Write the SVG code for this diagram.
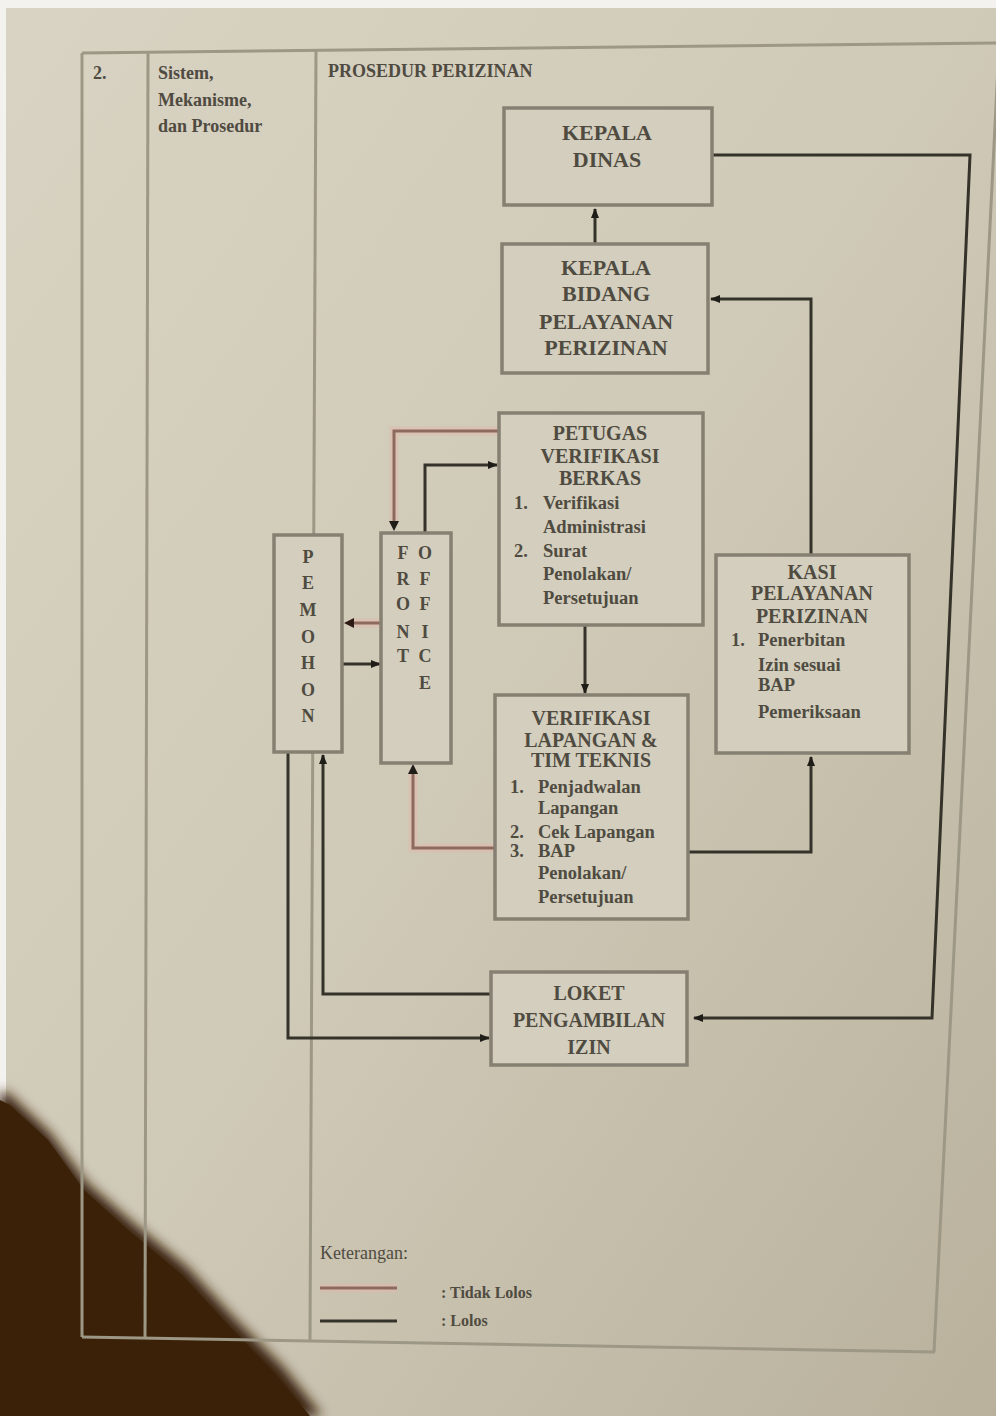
<svg xmlns="http://www.w3.org/2000/svg" width="996" height="1416" viewBox="0 0 996 1416">
<defs>
<linearGradient id="paper" x1="0" y1="0" x2="1" y2="1">
<stop offset="0" stop-color="#d9d3c3"/>
<stop offset="0.5" stop-color="#cfc9b7"/>
<stop offset="1" stop-color="#b9b19c"/>
</linearGradient>
<filter id="blur" x="-20%" y="-20%" width="140%" height="140%"><feGaussianBlur stdDeviation="6"/></filter>
<marker id="ah" viewBox="0 0 10 10" refX="9" refY="5" markerWidth="10" markerHeight="10" markerUnits="userSpaceOnUse" orient="auto"><path d="M0,1 L10,5 L0,9 z" fill="#1f1d18"/></marker>
<style>
.tbl{fill:none;stroke:#9d9786;stroke-width:3}
.box{fill:#d3cebd;stroke:#858071;stroke-width:3.5}
.k{fill:none;stroke:#35322a;stroke-width:3}
.r{fill:none;stroke:#8e6a5e;stroke-width:3}
.halo{fill:none;stroke:#e0b9ad;stroke-width:9;opacity:0.55}
.t{font-family:"Liberation Serif",serif;font-weight:bold;fill:#4f4b41}
.c{text-anchor:middle}
.h{font-size:18px}
.big{font-size:22px}
.mid{font-size:20px}
.it{font-size:18.5px}
</style>
</defs>
<rect x="0" y="0" width="996" height="1416" fill="#f4f2ee"/>
<rect x="6" y="8" width="990" height="1408" fill="url(#paper)"/>
<!-- shadow -->
<path d="M0,1090 L10,1095 L50,1133 L87,1183 L133,1223 L187,1267 L233,1317 L283,1367 L322,1416 L0,1416 Z" fill="#3a2107" filter="url(#blur)"/>
<path d="M0,1100 L10,1105 L48,1140 L84,1190 L128,1230 L182,1275 L228,1325 L276,1375 L310,1416 L0,1416 Z" fill="#3a2107"/>

<!-- table frame -->
<g id="table">
<path class="tbl" d="M82,53 L996,43"/>
<path class="tbl" d="M82,53 L82,1337"/>
<path class="tbl" d="M148,52 L145,1338"/>
<path class="tbl" d="M316,50 L310,1340"/>
<path class="tbl" d="M82,1337 L935,1352"/>
<path class="tbl" d="M999,45 L934,1352"/>
<text class="t h" x="93" y="79">2.</text>
<text class="t h" x="158" y="79">Sistem,</text>
<text class="t h" x="158" y="106">Mekanisme,</text>
<text class="t h" x="158" y="132">dan Prosedur</text>
<text class="t h" x="328" y="77">PROSEDUR PERIZINAN</text>
</g>

<!-- connectors -->
<g id="connectors">
<path class="k" d="M595,243 L595,209" marker-end="url(#ah)"/>
<path class="k" d="M712,155 L970,155 L932,1018 L694,1018" marker-end="url(#ah)"/>
<path class="k" d="M811,555 L811,299 L711,299" marker-end="url(#ah)"/>
<path class="k" d="M688,852 L811,852 L811,757" marker-end="url(#ah)"/>
<path class="k" d="M585,625 L585,693" marker-end="url(#ah)"/>
<path class="halo" d="M499,431 L394,431 L394,525"/>
<path class="r" d="M499,431 L394,431 L394,525"/>
<path d="M389,521 L394,531 L399,521 Z" fill="#1f1d18"/>
<path class="k" d="M425,533 L425,465 L497,465" marker-end="url(#ah)"/>
<path class="halo" d="M382,623 L350,623"/>
<path class="r" d="M382,623 L350,623"/>
<path d="M354,618 L344,623 L354,628 Z" fill="#2d1a14"/>
<path class="k" d="M342,664 L380,664" marker-end="url(#ah)"/>
<path class="halo" d="M495,848 L413,848 L413,770"/>
<path class="r" d="M495,848 L413,848 L413,770"/>
<path d="M408,774 L413,764 L418,774 Z" fill="#1f1d18"/>
<path class="k" d="M288,752 L288,1038 L489,1038" marker-end="url(#ah)"/>
<path class="k" d="M491,994 L323,994 L323,755" marker-end="url(#ah)"/>
</g>

<g id="kepala-dinas">
<rect class="box" x="504" y="108" width="208" height="97"/>
<text class="t c big" x="607" y="140">KEPALA</text>
<text class="t c big" x="607" y="167">DINAS</text>
</g>

<g id="kepala-bidang">
<rect class="box" x="502" y="244" width="206" height="129"/>
<text class="t c big" x="606" y="275">KEPALA</text>
<text class="t c big" x="606" y="301">BIDANG</text>
<text class="t c big" x="606" y="329">PELAYANAN</text>
<text class="t c big" x="606" y="355">PERIZINAN</text>
</g>

<g id="petugas-verifikasi">
<rect class="box" x="499" y="413" width="204" height="212"/>
<text class="t c mid" x="600" y="440">PETUGAS</text>
<text class="t c mid" x="600" y="463">VERIFIKASI</text>
<text class="t c mid" x="600" y="485">BERKAS</text>
<text class="t it" x="514" y="509">1.</text>
<text class="t it" x="543" y="509">Verifikasi</text>
<text class="t it" x="543" y="533">Administrasi</text>
<text class="t it" x="514" y="557">2.</text>
<text class="t it" x="543" y="557">Surat</text>
<text class="t it" x="543" y="580">Penolakan/</text>
<text class="t it" x="543" y="604">Persetujuan</text>
</g>

<g id="pemohon">
<rect class="box" x="274" y="535" width="68" height="217"/>
<text class="t c h" x="308" y="563">P</text>
<text class="t c h" x="308" y="589">E</text>
<text class="t c h" x="308" y="616">M</text>
<text class="t c h" x="308" y="643">O</text>
<text class="t c h" x="308" y="669">H</text>
<text class="t c h" x="308" y="696">O</text>
<text class="t c h" x="308" y="722">N</text>
</g>

<g id="front-office">
<rect class="box" x="381" y="533" width="70" height="230"/>
<text class="t c h" x="403" y="559">F</text>
<text class="t c h" x="403" y="585">R</text>
<text class="t c h" x="403" y="610">O</text>
<text class="t c h" x="403" y="638">N</text>
<text class="t c h" x="403" y="662">T</text>
<text class="t c h" x="425" y="559">O</text>
<text class="t c h" x="425" y="585">F</text>
<text class="t c h" x="425" y="610">F</text>
<text class="t c h" x="425" y="638">I</text>
<text class="t c h" x="425" y="662">C</text>
<text class="t c h" x="425" y="689">E</text>
</g>

<g id="kasi-pelayanan">
<rect class="box" x="716" y="555" width="193" height="198"/>
<text class="t c mid" x="812" y="579">KASI</text>
<text class="t c mid" x="812" y="600">PELAYANAN</text>
<text class="t c mid" x="812" y="623">PERIZINAN</text>
<text class="t it" x="731" y="646">1.</text>
<text class="t it" x="758" y="646">Penerbitan</text>
<text class="t it" x="758" y="671">Izin sesuai</text>
<text class="t it" x="758" y="691">BAP</text>
<text class="t it" x="758" y="718">Pemeriksaan</text>
</g>

<g id="verifikasi-lapangan">
<rect class="box" x="495" y="695" width="193" height="224"/>
<text class="t c mid" x="591" y="725">VERIFIKASI</text>
<text class="t c mid" x="591" y="747">LAPANGAN &amp;</text>
<text class="t c mid" x="591" y="767">TIM TEKNIS</text>
<text class="t it" x="510" y="793">1.</text>
<text class="t it" x="538" y="793">Penjadwalan</text>
<text class="t it" x="538" y="814">Lapangan</text>
<text class="t it" x="510" y="838">2.</text>
<text class="t it" x="538" y="838">Cek Lapangan</text>
<text class="t it" x="510" y="857">3.</text>
<text class="t it" x="538" y="857">BAP</text>
<text class="t it" x="538" y="879">Penolakan/</text>
<text class="t it" x="538" y="903">Persetujuan</text>
</g>

<g id="loket">
<rect class="box" x="491" y="972" width="196" height="93"/>
<text class="t c mid" x="589" y="1000">LOKET</text>
<text class="t c mid" x="589" y="1027">PENGAMBILAN</text>
<text class="t c mid" x="589" y="1054">IZIN</text>
</g>

<g id="legend">
<text class="t h" x="320" y="1259" style="font-weight:normal">Keterangan:</text>
<path class="halo" d="M320,1288 L397,1288"/>
<path class="r" d="M320,1288 L397,1288"/>
<path class="k" d="M320,1321 L397,1321"/>
<text class="t" x="441" y="1298" style="font-size:16px">: Tidak Lolos</text>
<text class="t" x="441" y="1326" style="font-size:16px">: Lolos</text>
</g>
</svg>
